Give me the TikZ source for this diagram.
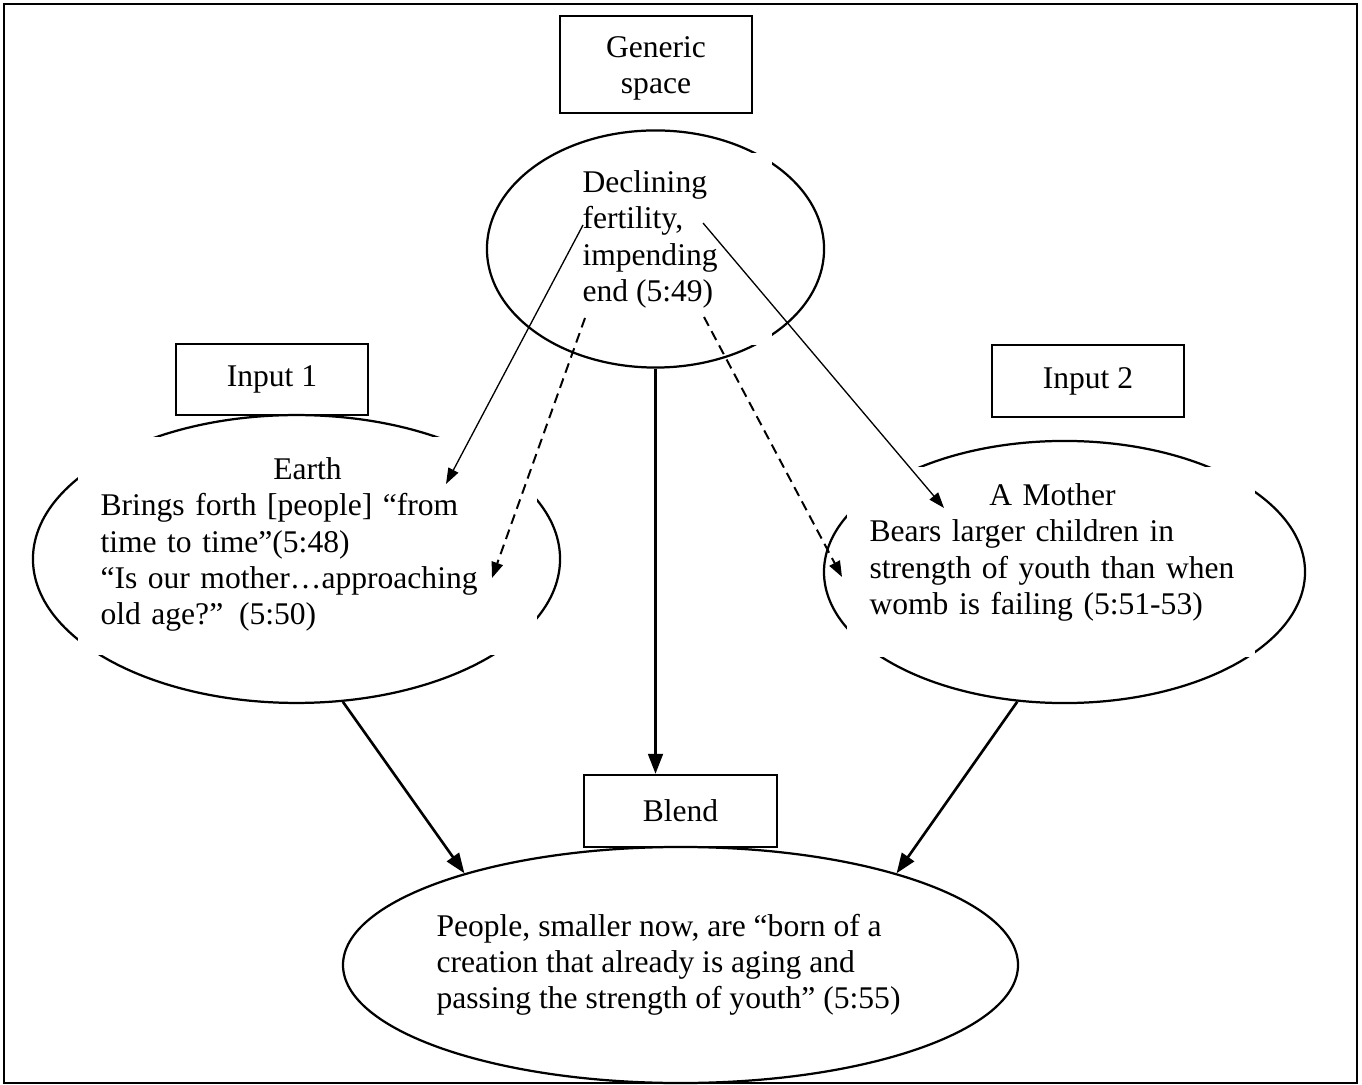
\documentclass[tikz,border=0pt]{standalone}
\usepackage{fontspec}
\setmainfont{Liberation Serif}
\usepackage{tikz}
\usetikzlibrary{shapes.geometric,arrows.meta}
\setlength{\parindent}{0pt}

\tikzset{
  titlebox/.style={draw, line width=0.85pt, align=center, inner sep=0pt,
    minimum width=73pt, minimum height=27pt},
  spaceoval/.style={draw, ellipse, line width=0.85pt, inner sep=0pt},
  spacetext/.style={anchor=north west, align=left, inner sep=0pt},
  thickarrow/.style={line width=1pt, -{Triangle[length=7.6pt,width=5.6pt]}},
  thinarrow/.style={line width=0.5pt, -{Triangle[length=6pt,width=4.2pt]}},
  dasharrow/.style={line width=0.75pt, dash pattern=on 3.8pt off 2.3pt,
    -{Triangle[length=6pt,width=4.4pt]}}
}

\begin{document}
\begin{tikzpicture}[x=0.38pt, y=-0.38pt, font=\fontsize{12pt}{13.7pt}\selectfont]
  \useasboundingbox (0,0) rectangle (1362,1085);
  % Frame
  \draw[line width=0.9pt] (4,4) rectangle (1357,1083);

  % Spaces
  \node[spaceoval, minimum width=128.1pt, minimum height=90.1pt] (gen) at (655.5,249) {};
  \node[spaceoval, minimum width=200.3pt, minimum height=109.4pt] (earth) at (296.5,559) {};
  \node[spaceoval, minimum width=182.8pt, minimum height=99.6pt] (mother) at (1064.5,572) {};
  \node[spaceoval, minimum width=256.5pt, minimum height=89.7pt] (blendsp) at (680.5,965) {};

  % Text boxes (white, they cut the ellipses)
  \fill[white] (560,153) rectangle (772,345);
  \fill[white] (78,437) rectangle (537,655);
  \fill[white] (847,467) rectangle (1255,657);

  \node[spacetext] (gentext) at (582,170.5) {Declining\\fertility,\\impending\\end (5:49)};
  \node[spacetext, text width=157.3pt] (earthtext) at (100,457.5)
    {{\centering Earth\par}\raggedright Brings forth [people] “from\\time to time”(5:48)\\“Is our mother…approaching\\old age?” (5:50)};
  \node[spacetext, text width=146pt] (mothertext) at (869,483.5)
    {{\centering\hspace*{-7pt}A Mother\par}\raggedright Bears larger children in\\strength of youth than when\\womb is failing (5:51-53)};
  \node[spacetext] (blendtext) at (436,913.5)
    {People, smaller now, are “born of a\\creation that already is aging and\\passing the strength of youth” (5:55)};

  % Labels
  \node[titlebox, minimum height=37pt] (genlabel) at (656,64.5) {\rule{0pt}{11.2pt}Generic\\space};
  \node[titlebox] (input1) at (272,379.5) {Input 1};
  \node[titlebox, minimum height=27.4pt] (input2) at (1088,381) {Input 2};
  \node[titlebox, minimum width=73.3pt, minimum height=27.4pt] (blendlabel) at (680.5,811) {Blend};

  % Arrows from the generic space
  \coordinate (g1) at (583,225);
  \coordinate (g2) at (703,223);
  \coordinate (g3) at (585,318);
  \coordinate (g4) at (704,317);
  \coordinate (e1) at (446,484);
  \coordinate (e2) at (492,578);
  \coordinate (m1) at (944,508);
  \coordinate (m2) at (842,577);
  \draw[thinarrow] (g1) -- (e1);
  \draw[thinarrow] (g2) -- (m1);
  \draw[dasharrow] (g3) -- (e2);
  \draw[dasharrow] (g4) -- (m2);
  \draw[thickarrow] (gen.south) -- (gen.south |- blendlabel.north);

  % Arrows into the blend
  \draw[thickarrow] (earth.-72) -- (blendsp.157);
  \draw[thickarrow] (mother.-110) -- (blendsp.23);
\end{tikzpicture}
\end{document}
